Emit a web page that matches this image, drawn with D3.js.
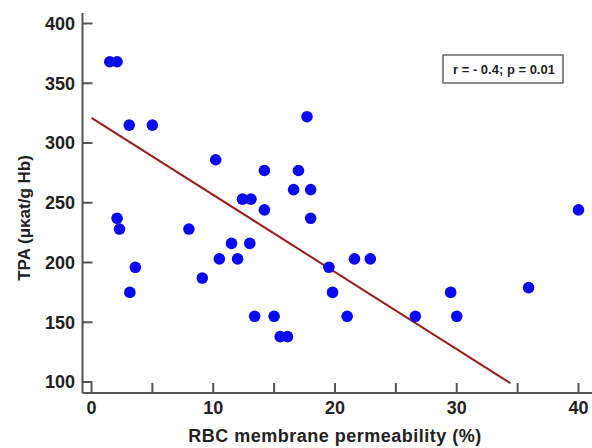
<!DOCTYPE html>
<html>
<head>
<meta charset="utf-8">
<script src="https://cdn.jsdelivr.net/npm/d3@7"></script>
<style>
  body { margin: 0; background: #fff; }
  text { font-family: Arial, "Liberation Sans", sans-serif; font-weight: bold; }
</style>
</head>
<body>
<div class="chart-div"></div>
<script>
//--------------------------- Data

var permeability = [1.5, 2.1, 3.1, 5.0, 10.2, 2.1, 2.3, 3.6, 3.15, 8.0,
                    9.1, 10.5, 11.5, 12.0, 13.0, 12.4, 13.1, 14.2, 14.2, 13.4,
                    15.0, 15.5, 16.1, 16.6, 17.0, 17.7, 18.0, 18.0, 19.5, 19.8,
                    21.6, 22.9, 21.0, 26.6, 29.5, 30.0, 35.9, 40.0];
var tpa = [368, 368, 315, 315, 286, 237, 228, 196, 175, 228,
           187, 203, 216, 203, 216, 253, 253, 277, 244, 155,
           155, 138, 138, 261, 277, 322, 261, 237, 196, 175,
           203, 203, 155, 155, 175, 155, 179, 244];

var fitIntercept = 321;
var fitSlope = -6.45;
var fitRange = [0, 34.4];

var xTicks = [0, 10, 20, 30, 40];
var xMinorTicks = [5, 15, 25, 35];
var yTicks = [100, 150, 200, 250, 300, 350, 400];
var statText = "r = - 0.4; p = 0.01";

//--------------------------- SVG definition

var width = 592;
var height = 448;

var svg = d3.select("div.chart-div")
    .append("svg")
    .attr("width", width)
    .attr("height", height);

var x = d3.scaleLinear().domain([0, 40]).range([91.5, 578.5]);
var y = d3.scaleLinear().domain([100, 400]).range([382, 23.5]);

var axisColor = "#555";
var labelColor = "#222";

//--------------------------- Axes (offset from data area)

var xAxisY = 393;
var yAxisX = 82.5;

svg.append("line")
    .attr("x1", yAxisX).attr("x2", yAxisX)
    .attr("y1", 13).attr("y2", xAxisY)
    .attr("stroke", axisColor).attr("stroke-width", 2);

svg.append("line")
    .attr("x1", yAxisX).attr("x2", 592)
    .attr("y1", xAxisY).attr("y2", xAxisY)
    .attr("stroke", axisColor).attr("stroke-width", 2);

svg.append("g").selectAll("line").data(yTicks).enter()
    .append("line")
    .attr("x1", yAxisX).attr("x2", yAxisX + 10)
    .attr("y1", function (d) { return y(d); })
    .attr("y2", function (d) { return y(d); })
    .attr("stroke", axisColor).attr("stroke-width", 2);

svg.append("g").selectAll("text").data(yTicks).enter()
    .append("text")
    .attr("x", 75)
    .attr("y", function (d) { return y(d); })
    .attr("dy", "0.36em")
    .style("text-anchor", "end")
    .attr("font-size", 18)
    .style("fill", labelColor)
    .text(function (d) { return d; });

svg.append("g").selectAll("line").data(xTicks.concat(xMinorTicks)).enter()
    .append("line")
    .attr("x1", function (d) { return x(d); })
    .attr("x2", function (d) { return x(d); })
    .attr("y1", xAxisY).attr("y2", xAxisY - 10)
    .attr("stroke", axisColor).attr("stroke-width", 2);

svg.append("g").selectAll("text").data(xTicks).enter()
    .append("text")
    .attr("x", function (d) { return x(d); })
    .attr("y", 414)
    .style("text-anchor", "middle")
    .attr("font-size", 18)
    .style("fill", labelColor)
    .text(function (d) { return d; });

//--------------------------- Axis titles

svg.append("text")
    .attr("x", 335)
    .attr("y", 442)
    .style("text-anchor", "middle")
    .attr("font-size", 18)
    .attr("letter-spacing", 0.5)
    .style("fill", labelColor)
    .text("RBC membrane permeability (%)");

svg.append("text")
    .attr("transform", "translate(30,218) rotate(-90)")
    .style("text-anchor", "middle")
    .attr("font-size", 17)
    .style("fill", labelColor)
    .text("TPA (μκat/g Hb)");

//--------------------------- Regression line

svg.append("line")
    .attr("x1", x(fitRange[0]))
    .attr("y1", y(fitIntercept + fitSlope * fitRange[0]))
    .attr("x2", x(fitRange[1]))
    .attr("y2", y(fitIntercept + fitSlope * fitRange[1]))
    .attr("stroke", "#9b1c1c")
    .attr("stroke-width", 2);

//--------------------------- Points

svg.append("g").selectAll("circle").data(permeability).enter()
    .append("circle")
    .attr("cx", function (d) { return x(d); })
    .attr("cy", function (d, i) { return y(tpa[i]); })
    .attr("r", 5.8)
    .attr("fill", "#0a0af0");

//--------------------------- Stat box

svg.append("rect")
    .attr("x", 443).attr("y", 55)
    .attr("width", 120).attr("height", 28)
    .attr("fill", "white")
    .attr("stroke", "#666")
    .attr("stroke-width", 1.5);

svg.append("text")
    .attr("x", 504).attr("y", 74)
    .style("text-anchor", "middle")
    .attr("font-size", 13)
    .style("fill", labelColor)
    .text(statText);
</script>
</body>
</html>
